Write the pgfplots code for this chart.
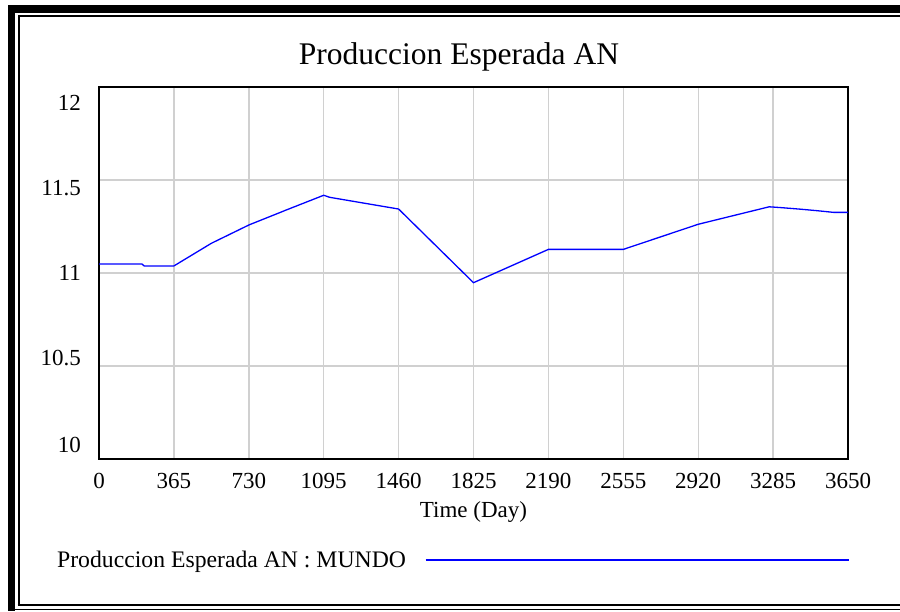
\documentclass[border=0pt]{standalone}
\usepackage{fontspec}
\setmainfont{Liberation Serif}
\usepackage{pgfplots}
\pgfplotsset{compat=1.18}
\definecolor{gridgray}{RGB}{208,208,208}
\pgfplotstableread{
t v
0 11.048
210 11.048
220 11.038
365 11.038
548 11.160
730 11.258
913 11.339
1095 11.418
1124 11.407
1460 11.344
1825 10.948
2190 11.127
2555 11.127
2920 11.262
3266 11.356
3330 11.351
3420 11.343
3500 11.335
3580 11.326
3650 11.326
}\datatable
\begin{document}
\begin{tikzpicture}
\path[use as bounding box] (0,0) rectangle (900pt,-611pt);
% frame
\fill[black] (8pt,-5pt) rectangle (15pt,-611pt);
\fill[black] (8pt,-5pt) rectangle (900pt,-12.5pt);
\draw[line width=2pt] (18.5pt,-605pt) -- (18.5pt,-16pt) -- (900pt,-16pt);
\draw[line width=2.5pt] (17.5pt,-605pt) -- (900pt,-605pt);
\draw[line width=1.8pt] (15pt,-609.5pt) -- (900pt,-609.5pt);
\node[anchor=base, inner sep=0pt, font=\fontsize{31.5}{31.5}\selectfont] at (459pt,-64pt) {Produccion Esperada AN};
\begin{axis}[
  at={(99pt,-459pt)}, anchor=south west,
  scale only axis, width=749pt, height=372pt,
  xmin=0, xmax=3650, ymin=10, ymax=12,
  xtick={0,365,730,1095,1460,1825,2190,2555,2920,3285,3650},
  xticklabels={0,365,730,1095,1460,1825,2190,2555,2920,3285,3650},
  ytick={11.916,11.457,11.0,10.543,10.075},
  yticklabels={12,11.5,11,10.5,10},
  minor ytick={10.5,11,11.5},
  xmajorgrids=true, ymajorgrids=false, yminorgrids=true,
  major grid style={gridgray, line width=1.4pt},
  minor grid style={gridgray, line width=1.4pt},
  major tick length=0pt, minor tick length=0pt,
  axis line style={black, line width=2.6pt},
  /pgf/number format/assume math mode=true,
  tick label style={font=\fontsize{23}{23}\selectfont},
  yticklabel style={anchor=east, inner sep=0pt, xshift=-18pt},
  xticklabel style={anchor=north, inner sep=0pt, yshift=-14pt},
  xlabel={Time (Day)},
  xlabel style={at={(axis description cs:0.5,0)}, anchor=base, yshift=-58pt, inner sep=0pt, font=\fontsize{23}{23}\selectfont},
  legend plot pos=right,
  legend image code/.code={\draw[#1] (0pt,0pt) -- (423pt,0pt);},
  legend style={at={(axis description cs:-0.0561,-0.2715)}, anchor=west, draw=none, fill=none, inner sep=0pt, column sep=19pt, nodes={inner sep=0pt}, font=\fontsize{23.7}{23.7}\selectfont},
]
\addplot[blue, line width=1.3pt] table[x=t, y=v] {\datatable};
\addlegendentry{Produccion Esperada AN : MUNDO}
\end{axis}
\end{tikzpicture}
\end{document}
